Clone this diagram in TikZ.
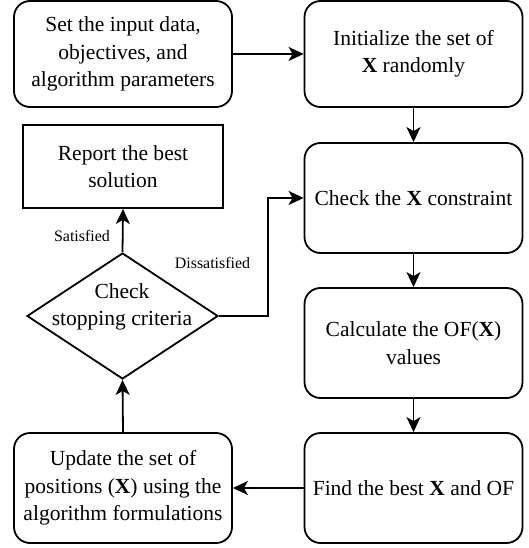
\documentclass[tikz,border=0pt]{standalone}
\usepackage{fontspec}
\setmainfont{Liberation Serif}
\usetikzlibrary{arrows.meta,shapes.geometric}

\tikzset{
  flowbox/.style={draw, line width=1.8bp, rounded corners=16bp, align=center,
    minimum width=218bp, minimum height=110bp, inner sep=2bp,
    font=\fontsize{21.6}{27.5}\selectfont},
  plainbox/.style={draw, line width=1.8bp, align=center,
    minimum width=200bp, minimum height=83bp, inner sep=2bp,
    font=\fontsize{21.6}{27.5}\selectfont},
  decision/.style={draw, diamond, line width=1.8bp, inner sep=0pt,
    minimum width=191bp, minimum height=126bp},
  bodytext/.style={align=center, inner sep=0pt, font=\fontsize{21.6}{27.5}\selectfont},
  edgelabel/.style={inner sep=0pt, font=\fontsize{16}{19}\selectfont},
  arr/.style={line width=1.8bp, -{Stealth[length=15bp, width=14bp, inset=4bp]}}
}

\begin{document}
\begin{tikzpicture}[x=1bp, y=-1bp]
  \useasboundingbox (0,0) rectangle (529,548);

  % left column
  \node[flowbox, minimum height=106bp] (set) at (123,54)
    {Set the input data,\\objectives, and\\algorithm parameters};
  \node[plainbox] (report) at (123,166.5) {Report the best\\solution};
  \node[decision] (stop) at (122.5,316) {};
  \node[bodytext] (stoptext) at (122,307) {Check\\stopping criteria};
  \node[flowbox] (update) at (123,488)
    {Update the set of\\positions (\textbf{X}) using the\\algorithm formulations};

  % right column
  \node[flowbox, minimum height=106bp] (init) at (413.5,54)
    {Initialize the set of\\\textbf{X} randomly};
  \node[flowbox] (check) at (413.5,198) {Check the \textbf{X} constraint};
  \node[flowbox] (calc) at (413.5,343) {Calculate the OF(\textbf{X})\\values};
  \node[flowbox] (find) at (413.5,488) {Find the best \textbf{X} and OF};

  % connectors
  \draw[arr] (set.east) -- (init.west);
  \draw[arr] (init.south) -- (check.north);
  \draw[arr] (check.south) -- (calc.north);
  \draw[arr] (calc.south) -- (find.north);
  \draw[arr] (find.west) -- (update.east);
  \draw[arr] (update.north) -- (stop.south);
  \draw[arr] (stop.north) -- (report.south);
  \coordinate (turn) at (268,316);
  \draw[arr] (stop.east) -- (turn) |- (check.west);

  % branch labels
  \node[edgelabel] (sat) at (82,236) {Satisfied};
  \node[edgelabel] (dis) at (212.5,263) {Dissatisfied};
\end{tikzpicture}
\end{document}
